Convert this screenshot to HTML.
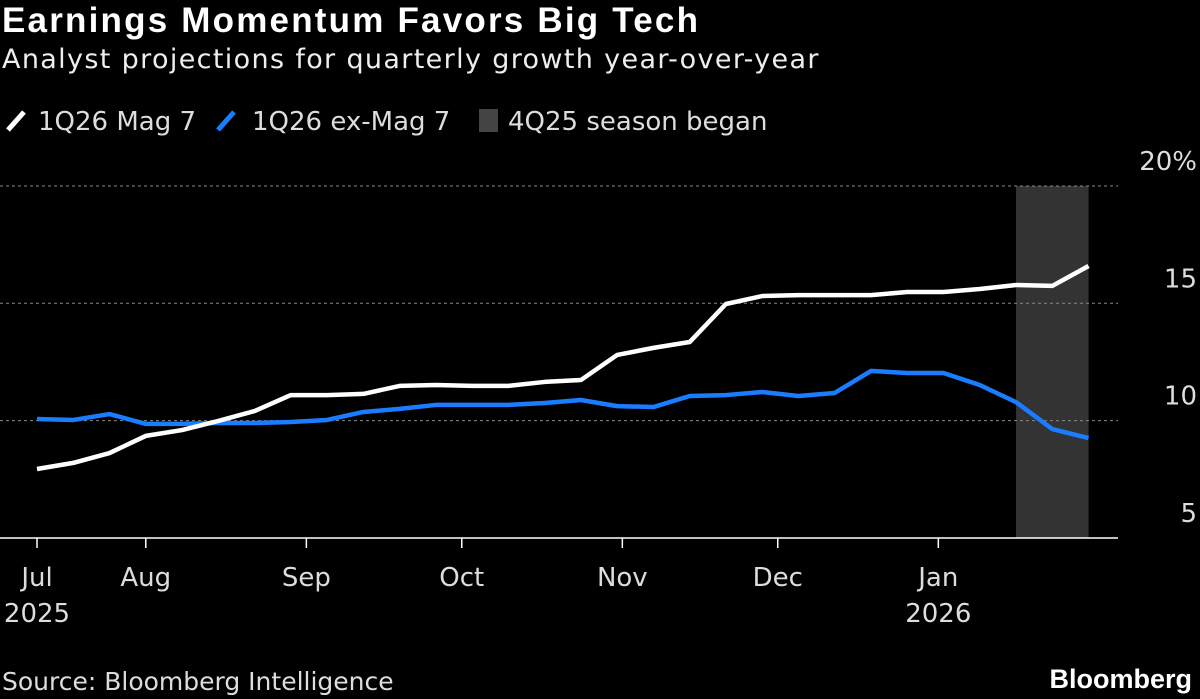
<!DOCTYPE html>
<html><head><meta charset="utf-8"><style>
body{margin:0;background:#000;width:1200px;height:699px;overflow:hidden;font-family:"Liberation Sans",sans-serif;color:#fff}
#t{position:absolute;left:2px;top:1px;font-size:35px;font-weight:bold;letter-spacing:2.2px}
#s{position:absolute;left:2px;top:44px;font-size:27px;font-family:"DejaVu Sans",sans-serif;color:#eee;letter-spacing:1.35px}
svg{position:absolute;left:0;top:0}
text{font-family:"DejaVu Sans",sans-serif;fill:#ddd}
</style></head><body>
<div id="t">Earnings Momentum Favors Big Tech</div>
<div id="s">Analyst projections for quarterly growth year-over-year</div>
<svg id="c" width="1200" height="699"></svg>
<script>
const whiteVals=[7.94,8.20,8.62,9.35,9.60,9.99,10.41,11.09,11.09,11.14,11.48,11.52,11.48,11.48,11.65,11.73,12.80,13.10,13.35,14.97,15.31,15.35,15.35,15.35,15.48,15.48,15.61,15.78,15.74,16.59];
const blueVals=[10.07,10.03,10.28,9.86,9.86,9.90,9.90,9.94,10.03,10.37,10.50,10.67,10.67,10.67,10.75,10.88,10.62,10.58,11.05,11.09,11.22,11.05,11.18,12.12,12.03,12.03,11.52,10.79,9.64,9.26];
const yTicks=[5,10,15,20];
const yTickLabels=["5","10","15","20%"];
const monthDays=[0,21,52,82,113,143,174];
const monthLabels=["Jul","Aug","Sep","Oct","Nov","Dec","Jan"];
const yearLabels=["2025","","","","","","2026"];
const shadeStart=189, shadeEnd=203;
const NS="http://www.w3.org/2000/svg";
const svg=document.getElementById('c');
const x=d=>37+d*5.18;
const y=v=>538-(v-5)*23.47;
function el(t,a,p){const e=document.createElementNS(NS,t);for(const k in a)e.setAttribute(k,a[k]);(p||svg).appendChild(e);return e;}
let g=el('g',{});


el('line',{x1:8,y1:130,x2:24,y2:112,stroke:'#fff','stroke-width':5},g);
let t1=el('text',{x:38,y:130,'font-size':26},g);t1.textContent='1Q26 Mag 7';
el('line',{x1:218,y1:130,x2:234,y2:112,stroke:'#1a7cff','stroke-width':5},g);
let t2=el('text',{x:252,y:130,'font-size':26},g);t2.textContent='1Q26 ex-Mag 7';
el('rect',{x:479,y:109,width:19,height:23,fill:'#444'},g);
let t3=el('text',{x:508,y:130,'font-size':26},g);t3.textContent='4Q25 season began';
const sh=el('rect',{x:x(shadeStart),y:y(20),width:x(shadeEnd)-x(shadeStart),height:y(5)-y(20),fill:'#333'});


yTicks.forEach((v,i)=>{
 if(v>5){const gl=el('line',{x1:0,x2:1118,y1:y(v),y2:y(v),stroke:'#888','stroke-width':1,'stroke-dasharray':'3,3'});
 
 }
 const tx=el('text',{x:1197,y:y(v)-16,'font-size':26,'text-anchor':'end'});tx.textContent=yTickLabels[i];
 
 
});
const ax=el('line',{x1:0,x2:1118,y1:y(5),y2:y(5),stroke:'#fff','stroke-width':1.5});


monthDays.forEach((d,i)=>{
 el('line',{x1:x(d),x2:x(d),y1:y(5),y2:y(5)+10,stroke:'#fff','stroke-width':1.5});
 const tx=el('text',{x:x(d),y:586,'font-size':26,'text-anchor':'middle'});tx.textContent=monthLabels[i];
 
 
 if(yearLabels[i]){const ty=el('text',{x:x(d),y:622,'font-size':26,'text-anchor':'middle'});ty.textContent=yearLabels[i];
 
 }
});
function line(vals,col,name){
 const p=el('polyline',{points:vals.map((v,i)=>x(i*7)+','+y(v)).join(' '),fill:'none',stroke:col,'stroke-width':4.5,'stroke-linejoin':'round'});
 
 
}
line(blueVals,'#1a7cff','line-ex-mag7');
line(whiteVals,'#fff','line-mag7');
const src=el('text',{x:2,y:690,'font-size':25});src.textContent='Source: Bloomberg Intelligence';


const bb=el('text',{x:1192,y:688,'font-size':27,'text-anchor':'end','font-weight':'bold',style:'font-family:"Liberation Sans",sans-serif;fill:#fff'});bb.textContent='Bloomberg';


</script>
</body></html>
